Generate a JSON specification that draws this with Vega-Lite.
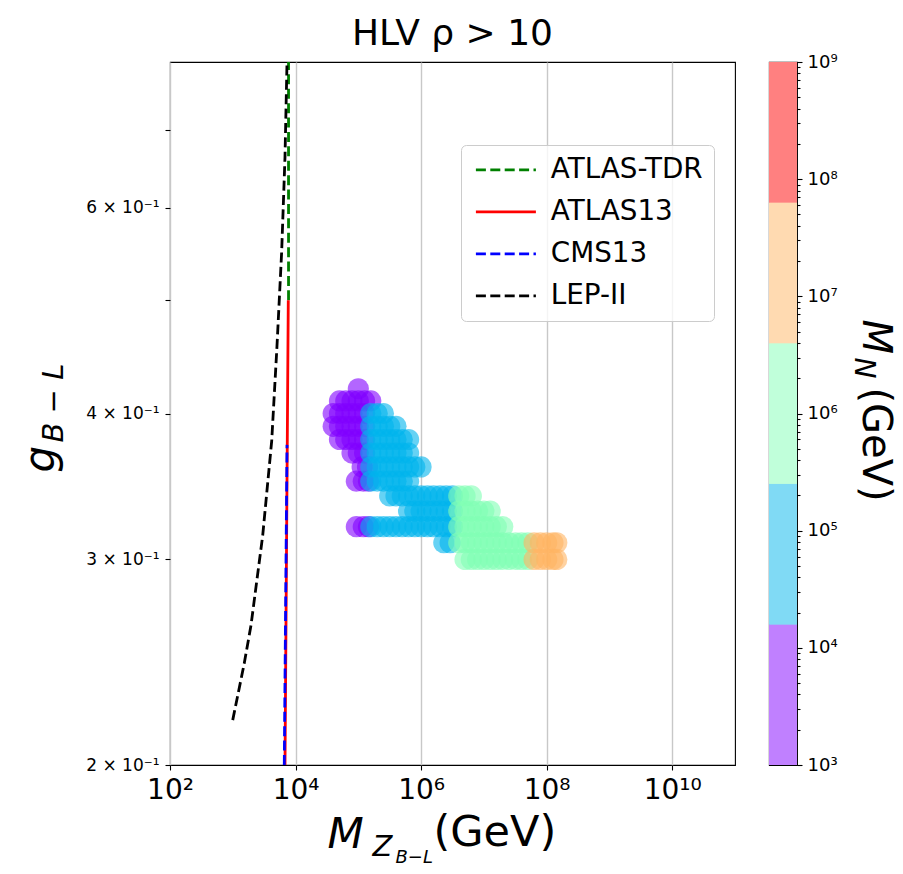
{
  "$schema": "https://vega.github.io/schema/vega-lite/v6.json",
  "padding": {"left": 18, "top": 16, "right": 0, "bottom": 5},
  "background": "white",
  "bounds": "flush",
  "spacing": 34,
  "title": {"text": "HLV ρ > 10", "anchor": "start", "frame": "group", "fontSize": 36, "font": "DejaVu Sans", "fontWeight": "normal", "color": "black", "dx": 182, "dy": 4, "offset": 3},
  "datasets": {
    "pts": [
      {"x": 1e5, "g": 0.42, "m": 5000},
      {"x": 5.01e4, "g": 0.41, "m": 5000}, {"x": 6.31e4, "g": 0.41, "m": 5000}, {"x": 7.94e4, "g": 0.41, "m": 5000}, {"x": 1e5, "g": 0.41, "m": 5000}, {"x": 1.26e5, "g": 0.41, "m": 5000}, {"x": 1.58e5, "g": 0.41, "m": 5000},
      {"x": 3.98e4, "g": 0.40, "m": 5000}, {"x": 5.01e4, "g": 0.40, "m": 5000}, {"x": 6.31e4, "g": 0.40, "m": 5000}, {"x": 7.94e4, "g": 0.40, "m": 5000}, {"x": 1e5, "g": 0.40, "m": 5000}, {"x": 1.26e5, "g": 0.40, "m": 5000},
      {"x": 3.98e4, "g": 0.39, "m": 5000}, {"x": 5.01e4, "g": 0.39, "m": 5000}, {"x": 6.31e4, "g": 0.39, "m": 5000}, {"x": 7.94e4, "g": 0.39, "m": 5000}, {"x": 1e5, "g": 0.39, "m": 5000}, {"x": 1.26e5, "g": 0.39, "m": 5000},
      {"x": 5.01e4, "g": 0.38, "m": 5000}, {"x": 6.31e4, "g": 0.38, "m": 5000}, {"x": 7.94e4, "g": 0.38, "m": 5000}, {"x": 1e5, "g": 0.38, "m": 5000}, {"x": 1.26e5, "g": 0.38, "m": 5000},
      {"x": 7.94e4, "g": 0.37, "m": 5000}, {"x": 1e5, "g": 0.37, "m": 5000}, {"x": 1.26e5, "g": 0.37, "m": 5000},
      {"x": 1.15e5, "g": 0.36, "m": 5000}, {"x": 1.4e5, "g": 0.36, "m": 5000},
      {"x": 9.3e4, "g": 0.35, "m": 5000}, {"x": 1.2e5, "g": 0.35, "m": 5000}, {"x": 1.45e5, "g": 0.35, "m": 5000},
      {"x": 9.3e4, "g": 0.32, "m": 5000}, {"x": 1.2e5, "g": 0.32, "m": 5000}, {"x": 1.45e5, "g": 0.32, "m": 5000},
      {"x": 1.58e5, "g": 0.40, "m": 1e5}, {"x": 2e5, "g": 0.40, "m": 1e5}, {"x": 2.51e5, "g": 0.40, "m": 1e5},
      {"x": 1.58e5, "g": 0.39, "m": 1e5}, {"x": 2e5, "g": 0.39, "m": 1e5}, {"x": 2.51e5, "g": 0.39, "m": 1e5}, {"x": 3.16e5, "g": 0.39, "m": 1e5}, {"x": 3.98e5, "g": 0.39, "m": 1e5},
      {"x": 1.58e5, "g": 0.38, "m": 1e5}, {"x": 2e5, "g": 0.38, "m": 1e5}, {"x": 2.51e5, "g": 0.38, "m": 1e5}, {"x": 3.16e5, "g": 0.38, "m": 1e5}, {"x": 3.98e5, "g": 0.38, "m": 1e5}, {"x": 5.01e5, "g": 0.38, "m": 1e5}, {"x": 6.31e5, "g": 0.38, "m": 1e5},
      {"x": 1.58e5, "g": 0.37, "m": 1e5}, {"x": 2e5, "g": 0.37, "m": 1e5}, {"x": 2.51e5, "g": 0.37, "m": 1e5}, {"x": 3.16e5, "g": 0.37, "m": 1e5}, {"x": 3.98e5, "g": 0.37, "m": 1e5}, {"x": 5.01e5, "g": 0.37, "m": 1e5}, {"x": 6.31e5, "g": 0.37, "m": 1e5},
      {"x": 1.58e5, "g": 0.36, "m": 1e5}, {"x": 2e5, "g": 0.36, "m": 1e5}, {"x": 2.51e5, "g": 0.36, "m": 1e5}, {"x": 3.16e5, "g": 0.36, "m": 1e5}, {"x": 3.98e5, "g": 0.36, "m": 1e5}, {"x": 5.01e5, "g": 0.36, "m": 1e5}, {"x": 6.31e5, "g": 0.36, "m": 1e5}, {"x": 7.94e5, "g": 0.36, "m": 1e5}, {"x": 1e6, "g": 0.36, "m": 1e5},
      {"x": 1.58e5, "g": 0.35, "m": 1e5}, {"x": 2e5, "g": 0.35, "m": 1e5}, {"x": 2.51e5, "g": 0.35, "m": 1e5}, {"x": 3.16e5, "g": 0.35, "m": 1e5}, {"x": 3.98e5, "g": 0.35, "m": 1e5}, {"x": 5.01e5, "g": 0.35, "m": 1e5}, {"x": 6.31e5, "g": 0.35, "m": 1e5},
      {"x": 3.16e5, "g": 0.34, "m": 1e5}, {"x": 3.98e5, "g": 0.34, "m": 1e5}, {"x": 5.01e5, "g": 0.34, "m": 1e5}, {"x": 6.31e5, "g": 0.34, "m": 1e5}, {"x": 7.94e5, "g": 0.34, "m": 1e5}, {"x": 1e6, "g": 0.34, "m": 1e5}, {"x": 1.26e6, "g": 0.34, "m": 1e5}, {"x": 1.58e6, "g": 0.34, "m": 1e5}, {"x": 2e6, "g": 0.34, "m": 1e5}, {"x": 2.51e6, "g": 0.34, "m": 1e5}, {"x": 3.16e6, "g": 0.34, "m": 1e5},
      {"x": 6.31e5, "g": 0.33, "m": 1e5}, {"x": 7.94e5, "g": 0.33, "m": 1e5}, {"x": 1e6, "g": 0.33, "m": 1e5}, {"x": 1.26e6, "g": 0.33, "m": 1e5}, {"x": 1.58e6, "g": 0.33, "m": 1e5}, {"x": 2e6, "g": 0.33, "m": 1e5}, {"x": 2.51e6, "g": 0.33, "m": 1e5}, {"x": 3.16e6, "g": 0.33, "m": 1e5},
      {"x": 1.58e5, "g": 0.32, "m": 1e5}, {"x": 2e5, "g": 0.32, "m": 1e5}, {"x": 2.51e5, "g": 0.32, "m": 1e5}, {"x": 3.16e5, "g": 0.32, "m": 1e5}, {"x": 3.98e5, "g": 0.32, "m": 1e5}, {"x": 5.01e5, "g": 0.32, "m": 1e5}, {"x": 6.31e5, "g": 0.32, "m": 1e5}, {"x": 7.94e5, "g": 0.32, "m": 1e5}, {"x": 1e6, "g": 0.32, "m": 1e5}, {"x": 1.26e6, "g": 0.32, "m": 1e5}, {"x": 1.58e6, "g": 0.32, "m": 1e5}, {"x": 2e6, "g": 0.32, "m": 1e5}, {"x": 2.51e6, "g": 0.32, "m": 1e5}, {"x": 3.16e6, "g": 0.32, "m": 1e5},
      {"x": 2.3e6, "g": 0.31, "m": 1e5}, {"x": 2.9e6, "g": 0.31, "m": 1e5},
      {"x": 3.98e6, "g": 0.34, "m": 1e6}, {"x": 5.01e6, "g": 0.34, "m": 1e6}, {"x": 6.31e6, "g": 0.34, "m": 1e6},
      {"x": 3.98e6, "g": 0.33, "m": 1e6}, {"x": 5.01e6, "g": 0.33, "m": 1e6}, {"x": 6.31e6, "g": 0.33, "m": 1e6}, {"x": 7.94e6, "g": 0.33, "m": 1e6}, {"x": 1e7, "g": 0.33, "m": 1e6}, {"x": 1.26e7, "g": 0.33, "m": 1e6},
      {"x": 3.98e6, "g": 0.32, "m": 1e6}, {"x": 5.01e6, "g": 0.32, "m": 1e6}, {"x": 6.31e6, "g": 0.32, "m": 1e6}, {"x": 7.94e6, "g": 0.32, "m": 1e6}, {"x": 1e7, "g": 0.32, "m": 1e6}, {"x": 1.26e7, "g": 0.32, "m": 1e6}, {"x": 1.58e7, "g": 0.32, "m": 1e6}, {"x": 2e7, "g": 0.32, "m": 1e6},
      {"x": 3.98e6, "g": 0.31, "m": 1e6}, {"x": 5.01e6, "g": 0.31, "m": 1e6}, {"x": 6.31e6, "g": 0.31, "m": 1e6}, {"x": 7.94e6, "g": 0.31, "m": 1e6}, {"x": 1e7, "g": 0.31, "m": 1e6}, {"x": 1.26e7, "g": 0.31, "m": 1e6}, {"x": 1.58e7, "g": 0.31, "m": 1e6}, {"x": 2e7, "g": 0.31, "m": 1e6}, {"x": 2.51e7, "g": 0.31, "m": 1e6}, {"x": 3.16e7, "g": 0.31, "m": 1e6}, {"x": 3.98e7, "g": 0.31, "m": 1e6}, {"x": 5.01e7, "g": 0.31, "m": 1e6},
      {"x": 5.01e6, "g": 0.30, "m": 1e6}, {"x": 6.31e6, "g": 0.30, "m": 1e6}, {"x": 7.94e6, "g": 0.30, "m": 1e6}, {"x": 1e7, "g": 0.30, "m": 1e6}, {"x": 1.26e7, "g": 0.30, "m": 1e6}, {"x": 1.58e7, "g": 0.30, "m": 1e6}, {"x": 2e7, "g": 0.30, "m": 1e6}, {"x": 2.51e7, "g": 0.30, "m": 1e6}, {"x": 3.16e7, "g": 0.30, "m": 1e6}, {"x": 3.98e7, "g": 0.30, "m": 1e6}, {"x": 5.01e7, "g": 0.30, "m": 1e6},
      {"x": 6.31e7, "g": 0.31, "m": 1.5e7}, {"x": 7.94e7, "g": 0.31, "m": 1.5e7}, {"x": 1e8, "g": 0.31, "m": 1.5e7}, {"x": 1.26e8, "g": 0.31, "m": 1.5e7}, {"x": 1.45e8, "g": 0.31, "m": 1.5e7},
      {"x": 6.31e7, "g": 0.30, "m": 1.5e7}, {"x": 7.94e7, "g": 0.30, "m": 1.5e7}, {"x": 1e8, "g": 0.30, "m": 1.5e7}, {"x": 1.26e8, "g": 0.30, "m": 1.5e7}, {"x": 1.45e8, "g": 0.30, "m": 1.5e7}
    ],
    "lines": [
      {"s": "ATLAS-TDR", "x": 7730, "g": 0.5},
      {"s": "ATLAS-TDR", "x": 7730, "g": 0.8},
      {"s": "ATLAS13", "x": 6790, "g": 0.2},
      {"s": "ATLAS13", "x": 7660, "g": 0.5},
      {"s": "CMS13", "x": 6610, "g": 0.2},
      {"s": "CMS13", "x": 7310, "g": 0.376},
      {"s": "LEP-II", "x": 998, "g": 0.2185},
      {"s": "LEP-II", "x": 1524, "g": 0.2444},
      {"s": "LEP-II", "x": 1950, "g": 0.2634},
      {"s": "LEP-II", "x": 2998, "g": 0.3145},
      {"s": "LEP-II", "x": 4170, "g": 0.379},
      {"s": "LEP-II", "x": 5060, "g": 0.4568},
      {"s": "LEP-II", "x": 6010, "g": 0.5505},
      {"s": "LEP-II", "x": 6790, "g": 0.6637},
      {"s": "LEP-II", "x": 7310, "g": 0.7998}
    ],
    "cbar": [
      {"lo": 1e3, "hi": 15849, "c": "#c080ff"},
      {"lo": 15849, "hi": 251189, "c": "#80daf5"},
      {"lo": 251189, "hi": 3981072, "c": "#c0ffda"},
      {"lo": 3981072, "hi": 63095734, "c": "#ffdab1"},
      {"lo": 63095734, "hi": 1e9, "c": "#ff8080"}
    ]
  },
  "hconcat": [
    {
      "width": 565,
      "height": 703,
      "layer": [
        {
          "data": {"name": "pts"},
          "mark": {"type": "circle", "size": 450, "opacity": 0.6},
          "encoding": {
            "x": {"field": "x", "type": "quantitative", "scale": {"type": "log", "domain": [100, 1e11], "nice": false},
              "axis": {"orient": "bottom", "values": [1e2, 1e4, 1e6, 1e8, 1e10], "labelExpr": "datum.value == 100 ? '10²' : datum.value == 1e4 ? '10⁴' : datum.value == 1e6 ? '10⁶' : datum.value == 1e8 ? '10⁸' : '10¹⁰'", "labelFontSize": 28, "labelPadding": 6, "tickSize": 5, "grid": true, "gridColor": "#c8c8c8", "gridWidth": 1.4, "title": "M", "titleFontSize": 42, "titleFontStyle": "italic", "titleAlign": "left", "titleBaseline": "alphabetic", "titleX": 157, "titleY": 82}},
            "y": {"field": "g", "type": "quantitative", "scale": {"type": "log", "domain": [0.2, 0.8], "nice": false},
              "axis": {"orient": "left", "values": [0.2, 0.3, 0.4, 0.5, 0.6, 0.7], "labelExpr": "datum.value == 0.2 ? '2 × 10⁻¹' : datum.value == 0.3 ? '3 × 10⁻¹' : datum.value == 0.4 ? '4 × 10⁻¹' : datum.value == 0.6 ? '6 × 10⁻¹' : ''", "labelFontSize": 17, "labelPadding": 6, "tickSize": 5, "grid": false, "title": "g", "titleFontSize": 42, "titleFontStyle": "italic", "titleAngle": -90, "titleAlign": "left", "titleBaseline": "alphabetic", "titleX": -117, "titleY": 410}},
            "color": {"field": "m", "type": "quantitative", "scale": {"type": "threshold", "domain": [15849, 251189, 3981072, 63095734], "range": ["#8000ff", "#00b4ec", "#80ffb4", "#ffb462", "#ff0000"]}, "legend": null}
          }
        },
        {
          "data": {"name": "lines"},
          "mark": {"type": "line", "strokeWidth": 2.8},
          "encoding": {
            "x": {"field": "x", "type": "quantitative", "axis": {"orient": "bottom", "labels": false, "ticks": false, "grid": false, "title": "Z", "titleFontSize": 29, "titleFontStyle": "italic", "titleAlign": "left", "titleBaseline": "alphabetic", "titleX": 202, "titleY": 90}},
            "y": {"field": "g", "type": "quantitative", "axis": {"orient": "left", "labels": false, "ticks": false, "grid": false, "title": "B − L", "titleFontSize": 29, "titleFontStyle": "italic", "titleAngle": -90, "titleAlign": "left", "titleBaseline": "alphabetic", "titleX": -108, "titleY": 380}},
            "color": {"field": "s", "type": "nominal", "scale": {"domain": ["ATLAS-TDR", "ATLAS13", "CMS13", "LEP-II"], "range": ["#008000", "#ff0000", "#0000ff", "#000000"]},
              "legend": {"orient": "none", "legendX": 291, "legendY": 83, "title": null, "labelFontSize": 27.8, "labelFont": "DejaVu Sans", "labelColor": "black", "symbolType": "M-1,0H5", "symbolSize": 400, "symbolStrokeWidth": 2.8, "labelOffset": 51, "rowPadding": 13, "padding": 11, "fillColor": "rgba(255,255,255,0.8)", "strokeColor": "#cccccc", "cornerRadius": 5}},
            "strokeDash": {"field": "s", "type": "nominal", "scale": {"domain": ["ATLAS-TDR", "ATLAS13", "CMS13", "LEP-II"], "range": [[10, 4.4], [1, 0], [10, 4.4], [10, 4.4]]},
              "legend": {"orient": "none", "legendX": 291, "legendY": 83, "title": null, "labelFontSize": 27.8, "labelFont": "DejaVu Sans", "labelColor": "black", "symbolType": "M-1,0H5", "symbolSize": 400, "symbolStrokeWidth": 2.8, "labelOffset": 51, "rowPadding": 13, "padding": 11, "fillColor": "rgba(255,255,255,0.8)", "strokeColor": "#cccccc", "cornerRadius": 5}},
            "order": {"field": "g", "type": "quantitative"}
          }
        },
        {
          "data": {"name": "lines"},
          "mark": {"type": "point", "opacity": 0},
          "encoding": {
            "x": {"field": "x", "type": "quantitative", "axis": {"orient": "bottom", "labels": false, "ticks": false, "grid": false, "title": "B−L", "titleFontSize": 18, "titleFontStyle": "italic", "titleAlign": "left", "titleBaseline": "alphabetic", "titleX": 225, "titleY": 97}},
            "y": {"field": "g", "type": "quantitative", "axis": null}
          }
        },
        {
          "data": {"name": "lines"},
          "mark": {"type": "point", "opacity": 0},
          "encoding": {
            "x": {"field": "x", "type": "quantitative", "axis": {"orient": "bottom", "labels": false, "ticks": false, "grid": false, "title": "(GeV)", "titleFontSize": 43, "titleFontStyle": "normal", "titleAlign": "left", "titleBaseline": "alphabetic", "titleX": 263, "titleY": 80}},
            "y": {"field": "g", "type": "quantitative", "axis": null}
          }
        }
      ],
      "resolve": {"scale": {"color": "independent", "strokeDash": "independent"}, "axis": {"x": "independent", "y": "independent"}}
    },
    {
      "width": 28,
      "height": 703,
      "data": {"name": "cbar"},
      "layer": [
        {
          "mark": {"type": "rect"},
          "encoding": {
            "x": {"datum": 0, "type": "quantitative", "scale": {"domain": [0, 1], "nice": false}, "axis": null},
            "x2": {"datum": 1},
            "y": {"field": "lo", "type": "quantitative", "scale": {"type": "log", "domain": [1e3, 1e9], "nice": false},
              "axis": {"orient": "right", "values": [1e3, 1e4, 1e5, 1e6, 1e7, 1e8, 1e9], "labelExpr": "datum.value == 1e3 ? '10³' : datum.value == 1e4 ? '10⁴' : datum.value == 1e5 ? '10⁵' : datum.value == 1e6 ? '10⁶' : datum.value == 1e7 ? '10⁷' : datum.value == 1e8 ? '10⁸' : '10⁹'", "labelFontSize": 18, "labelPadding": 5, "tickSize": 5, "grid": false, "title": "M", "titleFontSize": 40, "titleFontStyle": "italic", "titleAngle": 90, "titleAlign": "left", "titleBaseline": "alphabetic", "titleX": 65, "titleY": 257}},
            "y2": {"field": "hi"},
            "color": {"field": "c", "type": "nominal", "scale": null}
          }
        },
        {
          "mark": {"type": "rect"},
          "encoding": {
            "x": {"datum": 0, "type": "quantitative"},
            "x2": {"datum": 1},
            "y": {"field": "lo", "type": "quantitative",
              "axis": {"orient": "right", "values": [2e3, 3e3, 4e3, 5e3, 6e3, 7e3, 8e3, 9e3, 2e4, 3e4, 4e4, 5e4, 6e4, 7e4, 8e4, 9e4, 2e5, 3e5, 4e5, 5e5, 6e5, 7e5, 8e5, 9e5, 2e6, 3e6, 4e6, 5e6, 6e6, 7e6, 8e6, 9e6, 2e7, 3e7, 4e7, 5e7, 6e7, 7e7, 8e7, 9e7, 2e8, 3e8, 4e8, 5e8, 6e8, 7e8, 8e8, 9e8], "labels": false, "tickSize": 3, "grid": false, "title": "N", "titleFontSize": 28, "titleFontStyle": "italic", "titleAngle": 90, "titleAlign": "left", "titleBaseline": "alphabetic", "titleX": 57, "titleY": 295}},
            "y2": {"field": "hi"},
            "color": {"field": "c", "type": "nominal", "scale": null}
          }
        },
        {
          "mark": {"type": "rect"},
          "encoding": {
            "x": {"datum": 0, "type": "quantitative"},
            "x2": {"datum": 1},
            "y": {"field": "lo", "type": "quantitative",
              "axis": {"orient": "right", "labels": false, "ticks": false, "grid": false, "title": "(GeV)", "titleFontSize": 40, "titleFontStyle": "normal", "titleAngle": 90, "titleAlign": "left", "titleBaseline": "alphabetic", "titleX": 65, "titleY": 325}},
            "y2": {"field": "hi"},
            "color": {"field": "c", "type": "nominal", "scale": null}
          }
        }
      ],
      "resolve": {"axis": {"y": "independent"}}
    }
  ],
  "config": {
    "font": "DejaVu Sans",
    "view": {"stroke": "black", "strokeWidth": 1.1},
    "axis": {"labelFont": "DejaVu Sans", "titleFont": "DejaVu Sans", "labelColor": "black", "titleColor": "black", "tickColor": "black", "titleFontWeight": "normal", "domain": false, "labelFlush": false, "labelOverlap": false, "labelBound": false, "tickWidth": 1.1},
    "legend": {"labelFont": "DejaVu Sans"}
  }
}
